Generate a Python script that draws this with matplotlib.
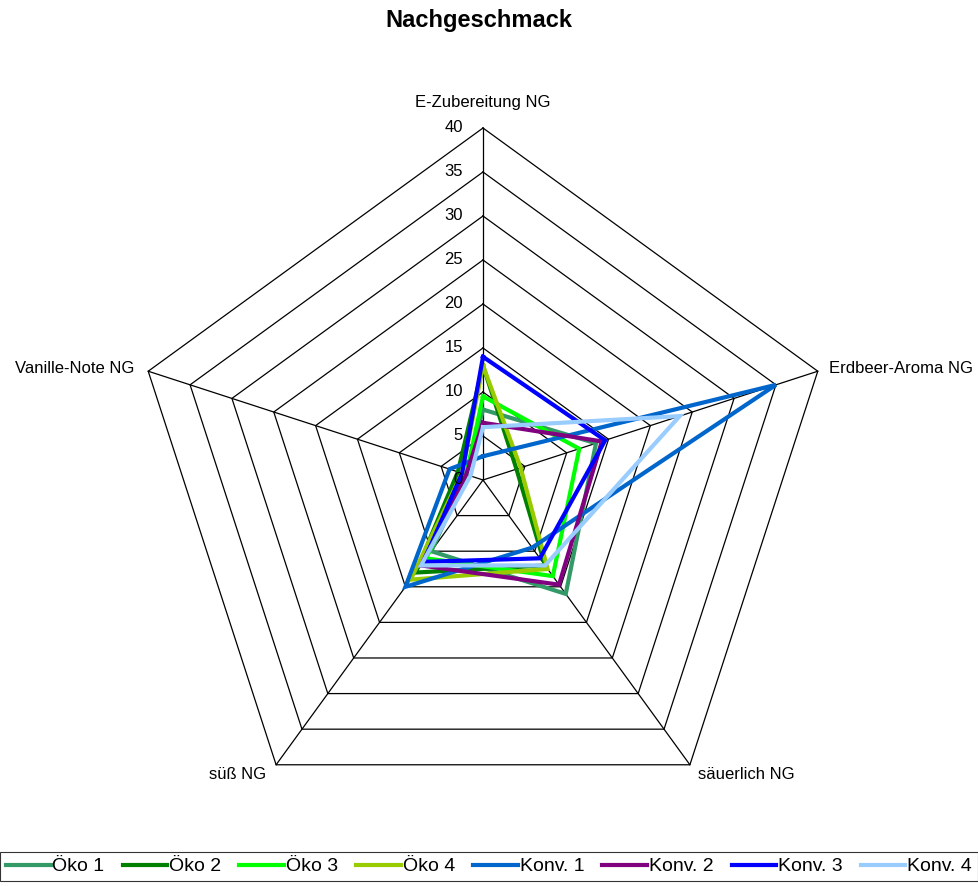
import numpy as np
import matplotlib.pyplot as plt

plt.rcParams['font.family'] = ['Liberation Sans', 'DejaVu Sans']

# axes of the radar (clockwise from top)
categories = ['E-Zubereitung NG', 'Erdbeer-Aroma NG', 'säuerlich NG', 'süß NG', 'Vanille-Note NG']

series_names = ['Öko 1', 'Öko 2', 'Öko 3', 'Öko 4', 'Konv. 1', 'Konv. 2', 'Konv. 3', 'Konv. 4']
oeko1 = [8, 13.5, 16, 10, 2]
oeko2 = [13, 4, 12, 13, 3]
oeko3 = [9.5, 11.5, 13.5, 11, 2]
oeko4 = [13, 4.5, 12.5, 14, 2.5]
konv1 = [2.7, 35, 9.5, 15, 4]
konv2 = [6.5, 14.2, 14.7, 12, 2]
konv3 = [14, 14.6, 11, 11.5, 2.5]
konv4 = [6, 23.5, 12, 12, 1.5]
values = [oeko1, oeko2, oeko3, oeko4, konv1, konv2, konv3, konv4]
colors = ['#339966', '#008000', '#00FF00', '#99CC00', '#0066CC', '#800080', '#0000FF', '#99CCFF']

ticks = [0, 5, 10, 15, 20, 25, 30, 35, 40]

W, H = 979, 886
cx, cy = 483, 480   # centre in pixels
px = 8.8            # pixels per unit

fig = plt.figure(figsize=(W / 100, H / 100), dpi=100)
ax = fig.add_axes([0, 0, 1, 1])
ax.set_xlim(-cx / px, (W - cx) / px)
ax.set_ylim(-(H - cy) / px, cy / px)
ax.axis('off')

ang = np.deg2rad(90 - 72 * np.arange(5))
ca, sa = np.cos(ang), np.sin(ang)

# grid rings and spokes
for r in ticks[1:]:
    ax.plot(np.append(r * ca, r * ca[0]), np.append(r * sa, r * sa[0]), color='black', lw=0.9, zorder=1)
for k in range(5):
    ax.plot([0, 40 * ca[k]], [0, 40 * sa[k]], color='black', lw=0.9, zorder=1)

# tick labels along the top axis
for t in ticks:
    ax.text(-2.3, t, str(t), ha='right', va='center', fontsize=12)

# category labels
ax.text(0, 40 + 2.9, categories[0], ha='center', va='center', fontsize=12)
ax.text(40 * ca[1] + 1.3, 40 * sa[1] + 0.3, categories[1], ha='left', va='center', fontsize=12)
ax.text(40 * ca[2] + 0.9, 40 * sa[2] - 1.1, categories[2], ha='left', va='center', fontsize=12)
ax.text(40 * ca[3] - 1.1, 40 * sa[3] - 1.1, categories[3], ha='right', va='center', fontsize=12)
ax.text(40 * ca[4] - 1.6, 40 * sa[4] + 0.3, categories[4], ha='right', va='center', fontsize=12)

handles = []
for name, vals, col in zip(series_names, values, colors):
    v = np.array(vals + vals[:1])
    x = v * np.append(ca, ca[0])
    y = v * np.append(sa, sa[0])
    h, = ax.plot(x, y, color=col, lw=3, label=name, zorder=2, solid_joinstyle='miter')
    handles.append(h)

fig.text(0.489, 1 - 21 / H, 'Nachgeschmack', ha='center', va='center', fontsize=17, fontweight='bold')

leg = fig.legend(handles=handles, loc='upper left', bbox_to_anchor=(0.0, 1 - 852 / H, 0.999, 0.0),
                 mode='expand', ncol=8, fontsize=14, frameon=True, fancybox=False,
                 edgecolor='black', borderaxespad=0, handlelength=2.3, handletextpad=0.1,
                 columnspacing=0.5, borderpad=0.3)
leg.get_frame().set_linewidth(0.8)

fig.savefig('out.png', dpi=100)
